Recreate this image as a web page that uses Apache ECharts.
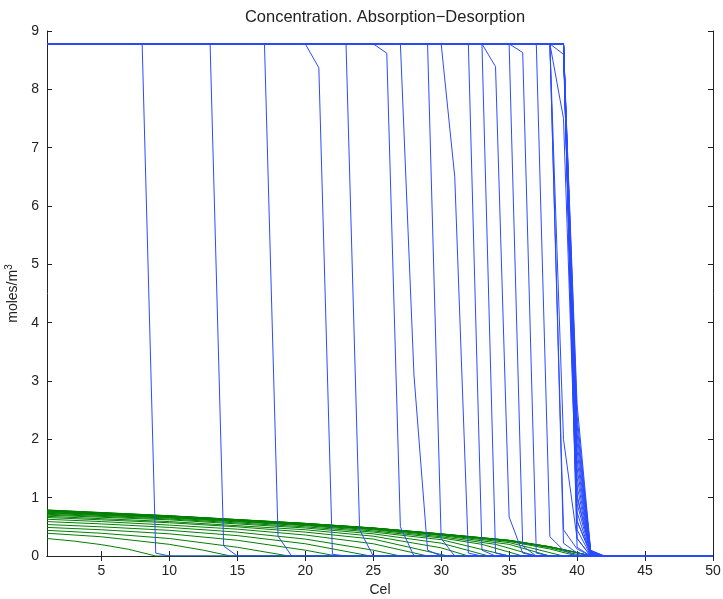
<!DOCTYPE html>
<html>
<head>
<meta charset="utf-8">
<script src="https://cdn.jsdelivr.net/npm/echarts@6/dist/echarts.min.js"></script>
<style>html,body{margin:0;padding:0;background:#fff}#c{width:723px;height:599px}</style>
</head>
<body>
<div id="c"></div>
<script>
// ---- data ----
const xTicks = [5, 10, 15, 20, 25, 30, 35, 40, 45, 50];
const yTicks = [0, 1, 2, 3, 4, 5, 6, 7, 8, 9];
const plateau = 8.78;          // gas-phase inlet concentration
const xLast = 50;
// blue profiles: last grid point still at plateau, then values at following grid points
const blueFront = [8, 13, 17, 20, 23, 25, 27, 29, 30, 32, 33, 33, 35, 35, 37, 38, 38, 38, 38, 38,
                   39, 39, 39, 39, 39, 39, 39, 39, 39, 39, 39, 39, 39, 39, 39, 39, 39];
const blueTail = [
  [0.05, 0], [0.17, 0], [0.34, 0], [8.37, 0.03, 0], [0.45, 0], [8.62, 0.5, 0],
  [3.1, 0.1, 0], [0.3, 0], [6.5, 0.05, 0], [0.1, 0], [0.05, 0], [8.39, 0.67, 0.05, 0],
  [0.17, 0], [8.63, 0.05, 0], [0.33, 0.1, 0], [0.22, 0.05, 0], [0.45, 0.12, 0],
  [8.6, 1.0, 0.1, 0], [7.5, 0.6, 0.05, 0], [2.0, 0.3, 0],
  [0.15, 0], [0.3, 0], [0.45, 0.01, 0], [0.6, 0.02, 0], [0.75, 0.02, 0], [0.9, 0.03, 0],
  [1.05, 0.03, 0], [1.2, 0.04, 0], [1.35, 0.04, 0], [1.5, 0.05, 0], [1.65, 0.05, 0],
  [1.8, 0.06, 0], [1.95, 0.06, 0], [2.1, 0.07, 0], [2.25, 0.07, 0], [2.4, 0.08, 0], [2.6, 0.09, 0]
];
// green profiles: [x, y] points
const green = [
  [[1,.30],[3,.255],[5,.195],[7,.115],[9,0]],
  [[1,.39],[5,.33],[10,.20],[12.5,.10],[14.5,0]],
  [[1,.44],[5,.39],[10,.30],[15,.15],[18.8,0]],
  [[1,.49],[5,.45],[10,.38],[15,.27],[20,.10],[22.3,0]],
  [[1,.54],[5,.50],[10,.44],[15,.35],[20,.21],[24.8,0]],
  [[1,.59],[5,.55],[10,.49],[15,.41],[20,.29],[25,.10],[27,0]],
  [[1,.63],[5,.59],[10,.53],[15,.46],[20,.36],[25,.21],[29,0]],
  [[1,.66],[5,.62],[10,.57],[15,.50],[20,.41],[25,.29],[30.5,0]],
  [[1,.68],[10,.59],[20,.45],[25,.34],[30,.14],[32,0]],
  [[1,.70],[10,.62],[20,.48],[25,.38],[30,.22],[33.5,0]],
  [[1,.715],[10,.635],[20,.50],[25,.41],[30,.28],[35,0]],
  [[1,.73],[10,.65],[20,.52],[25,.43],[30,.31],[33,.20],[36,0]],
  [[1,.74],[10,.66],[20,.53],[25,.45],[30,.33],[34,.20],[37,0]],
  [[1,.75],[10,.67],[20,.54],[25,.46],[30,.35],[35,.20],[38,0]],
  [[1,.76],[10,.675],[20,.545],[25,.47],[30,.36],[35,.23],[39,0]],
  [[1,.77],[10,.68],[20,.55],[25,.475],[30,.37],[35,.25],[38,.12],[40,0]],
  [[1,.775],[10,.683],[20,.553],[25,.477],[30,.373],[35,.26],[38,.14],[40.5,0]],
  [[1,.78],[10,.685],[20,.555],[25,.478],[30,.375],[35,.265],[38,.155],[40,.055],[41,0]],
  [[1,.783],[10,.687],[20,.557],[25,.479],[30,.377],[35,.267],[38,.157],[40,.057],[41,0]],
  [[1,.786],[10,.689],[20,.559],[25,.48],[30,.379],[35,.268],[38,.158],[40,.058],[41,0]],
  [[1,.79],[10,.69],[20,.56],[25,.481],[30,.38],[35,.27],[38,.16],[40,.06],[41,0]]
];

// ---- build series ----
const series = [];
green.forEach(pts => {
  const d = pts.slice();
  d.push([xLast, 0]);
  series.push({type:'line', data:d, showSymbol:false, silent:true, z:2,
    lineStyle:{color:'#008000', width:1}});
});
blueFront.forEach((k, i) => {
  const d = [[1, plateau], [k, plateau]];
  blueTail[i].forEach((v, j) => d.push([k + 1 + j, v]));
  d.push([xLast, 0]);
  series.push({type:'line', data:d, showSymbol:false, silent:true, z:3,
    lineStyle:{color:'#2a4bff', width:1}});
});

const chart = echarts.init(document.getElementById('c'));
const font = 'Liberation Sans, Arial, Helvetica, sans-serif';
const axLine = {show:true, lineStyle:{color:'#222', width:1}};
chart.setOption({
  animation:false,
  backgroundColor:'#fff',
  title:{text:'Concentration. Absorption\u2212Desorption', left:380, top:4, textAlign:'center',
    textStyle:{fontFamily:font, fontSize:16.5, fontWeight:'normal', color:'#222'}},
  grid:{left:47, top:31, width:666, height:525, show:false, containLabel:false, outerBoundsMode:'none'},
  xAxis:[
    {type:'value', min:1, max:50, position:'bottom', axisLine:axLine,
     axisTick:{show:true, inside:true, length:5, customValues:xTicks, lineStyle:{color:'#222'}},
     axisLabel:{customValues:xTicks, fontFamily:font, fontSize:14, color:'#222', margin:8},
     splitLine:{show:false}, name:'Cel', nameLocation:'middle', nameGap:25,
     nameTextStyle:{fontFamily:font, fontSize:14, color:'#222'}},
    {type:'value', min:1, max:50, position:'top', axisLine:axLine,
     axisTick:{show:true, inside:true, length:5, customValues:xTicks, lineStyle:{color:'#222'}},
     axisLabel:{show:false}, splitLine:{show:false}}
  ],
  yAxis:[
    {type:'value', min:0, max:9, interval:1, position:'left', axisLine:axLine,
     axisTick:{show:true, inside:true, length:5, lineStyle:{color:'#222'}},
     axisLabel:{fontFamily:font, fontSize:14, color:'#222', margin:8},
     splitLine:{show:false}, name:'moles/m{s|3}', nameLocation:'middle', nameGap:20,
     nameTextStyle:{fontFamily:font, fontSize:14, color:'#222',
       rich:{s:{fontFamily:font, fontSize:10, color:'#222', padding:[0,0,8,0]}}}},
    {type:'value', min:0, max:9, interval:1, position:'right', axisLine:axLine,
     axisTick:{show:true, inside:true, length:5, lineStyle:{color:'#222'}},
     axisLabel:{show:false}, splitLine:{show:false}}
  ],
  series: series
});
</script>
</body>
</html>
